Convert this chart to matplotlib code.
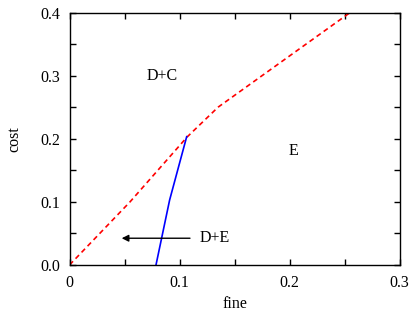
import matplotlib
matplotlib.use("Agg")
import matplotlib.pyplot as plt
from matplotlib.ticker import MultipleLocator

plt.rcParams["font.family"] = ["Liberation Serif", "DejaVu Serif"]
plt.rcParams["font.size"] = 11.5

# boundary D+C / E (red dashed)
red_x = [0.0, 0.055, 0.107, 0.135, 0.175, 0.255]
red_y = [0.0, 0.100, 0.203, 0.250, 0.300, 0.400]

# boundary D+C / D+E (blue)
blue_x = [0.0786, 0.0910, 0.1065]
blue_y = [0.0, 0.103, 0.2033]

region_labels = ["D+C", "E", "D+E"]
region_x = [0.0838, 0.204, 0.1186]
region_y = [0.30, 0.181, 0.0423]

arrow_from = (0.1095, 0.0423)
arrow_to = (0.0474, 0.0423)

xticks = [0, 0.1, 0.2, 0.3]
xticklabels = ["0", "0.1", "0.2", "0.3"]
yticks = [0.0, 0.1, 0.2, 0.3, 0.4]
yticklabels = ["0.0", "0.1", "0.2", "0.3", "0.4"]

fig = plt.figure(figsize=(4.14, 3.15), dpi=100)
ax = fig.add_axes([0.168, 0.159, 0.797, 0.801])

ax.plot(red_x, red_y, color="red", linestyle=(0, (3, 2.2)), linewidth=1.2)
ax.plot(blue_x, blue_y, color="blue", linewidth=1.2)

ax.text(region_x[0], region_y[0], region_labels[0], ha="center", va="center")
ax.text(region_x[1], region_y[1], region_labels[1], ha="center", va="center")
ax.text(region_x[2], region_y[2], region_labels[2], ha="left", va="center")
ax.annotate("", xy=arrow_to, xytext=arrow_from,
            arrowprops=dict(arrowstyle="-|>", color="black", lw=1.0,
                            mutation_scale=10, shrinkA=0, shrinkB=0))

ax.set_xlim(0, 0.3)
ax.set_ylim(0, 0.4)
ax.set_xticks(xticks)
ax.set_xticklabels(xticklabels)
ax.set_yticks(yticks)
ax.set_yticklabels(yticklabels)
ax.xaxis.set_minor_locator(MultipleLocator(0.05))
ax.yaxis.set_minor_locator(MultipleLocator(0.05))
ax.tick_params(which="both", direction="in", top=True, right=True,
               length=4.5, width=1.0)
ax.tick_params(axis="x", pad=7)
ax.tick_params(axis="y", pad=7)
for s in ax.spines.values():
    s.set_linewidth(1.0)

ax.set_xlabel("fine", labelpad=4)
ax.set_ylabel("cost", labelpad=13)

fig.savefig("out.png", dpi=100)
